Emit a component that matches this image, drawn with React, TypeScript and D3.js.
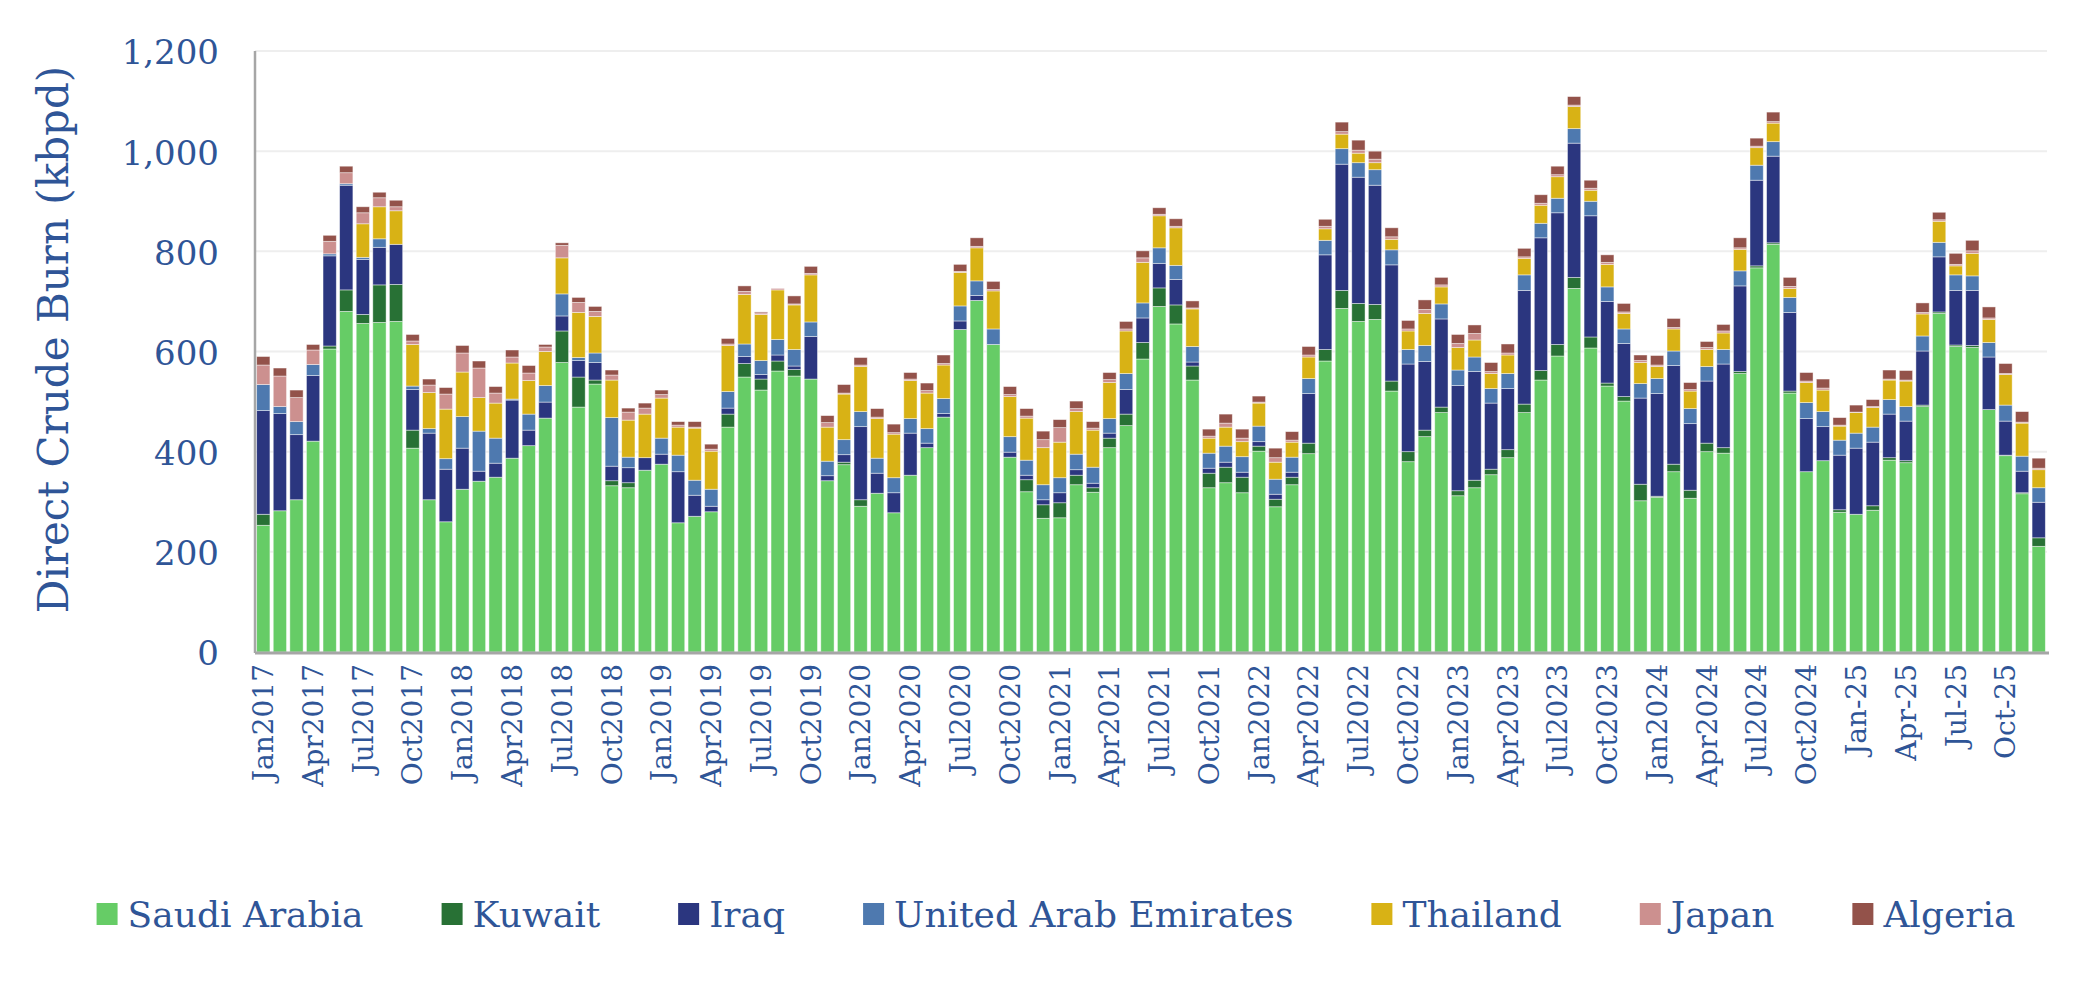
import React, { useRef, useEffect } from "react";
import * as d3 from "d3";

// monthly categories, Jan 2017 .. Dec 2025
const months = d3.timeMonth.range(new Date(2017, 0, 1), new Date(2026, 0, 1));
const monthKeys = months.map((d) => d3.timeFormat("%Y-%m")(d));

// one label every third month
const xTickLabels = [
  "Jan2017", "Apr2017", "Jul2017", "Oct2017",
  "Jan2018", "Apr2018", "Jul2018", "Oct2018",
  "Jan2019", "Apr2019", "Jul2019", "Oct2019",
  "Jan2020", "Apr2020", "Jul2020", "Oct2020",
  "Jan2021", "Apr2021", "Jul2021", "Oct2021",
  "Jan2022", "Apr2022", "Jul2022", "Oct2022",
  "Jan2023", "Apr2023", "Jul2023", "Oct2023",
  "Jan2024", "Apr2024", "Jul2024", "Oct2024",
  "Jan-25", "Apr-25", "Jul-25", "Oct-25",
];

const yTicks = [0, 200, 400, 600, 800, 1000, 1200];

const seriesNames = ["Saudi Arabia", "Kuwait", "Iraq", "United Arab Emirates", "Thailand", "Japan", "Algeria"];
const seriesColors = ["#66cc66", "#287135", "#2b367f", "#4e79af", "#d8b215", "#cc908f", "#93524a"];

// kbpd, one value per month
const saudiArabia = [
  253, 282, 304, 421, 605, 680, 656, 658, 660, 407, 304, 260,
  325, 341, 349, 387, 412, 467, 578, 489, 535, 332, 328, 363,
  375, 258, 271, 280, 449, 549, 523, 561, 551, 545, 342, 374,
  291, 317, 278, 353, 408, 469, 644, 702, 614, 389, 320, 267,
  268, 334, 319, 408, 452, 585, 690, 655, 543, 328, 338, 318,
  401, 290, 334, 396, 581, 686, 660, 664, 521, 380, 430, 478,
  312, 328, 354, 388, 478, 543, 591, 726, 607, 531, 501, 302,
  309, 360, 307, 400, 397, 556, 767, 814, 517, 360, 382, 279,
  275, 283, 383, 378, 490, 676, 610, 608, 484, 392, 316, 211,
];
const kuwait = [
  22, 0, 0, 0, 6, 43, 18, 75, 74, 36, 0, 0,
  0, 0, 0, 0, 0, 0, 63, 60, 8, 10, 10, 0,
  0, 0, 0, 0, 26, 27, 22, 20, 13, 0, 0, 5,
  13, 0, 0, 0, 0, 0, 0, 0, 0, 0, 24, 27,
  30, 19, 9, 19, 23, 33, 37, 38, 28, 29, 31, 31,
  10, 15, 15, 21, 23, 36, 36, 30, 20, 20, 13, 11,
  10, 15, 11, 16, 17, 19, 23, 22, 22, 6, 9, 33,
  2, 15, 16, 17, 11, 4, 4, 3, 4, 0, 0, 5,
  0, 9, 5, 4, 3, 3, 3, 4, 0, 1, 2, 17,
];
const iraq = [
  207, 194, 130, 131, 180, 209, 110, 75, 80, 81, 133, 105,
  82, 20, 28, 116, 31, 32, 30, 33, 35, 29, 30, 25,
  20, 102, 42, 11, 12, 14, 9, 12, 7, 85, 10, 15,
  146, 40, 40, 84, 9, 7, 17, 10, 0, 10, 9, 10,
  20, 11, 9, 10, 49, 49, 49, 51, 8, 10, 10, 10,
  9, 10, 10, 99, 189, 252, 252, 238, 232, 175, 137, 176,
  210, 217, 132, 122, 227, 265, 263, 268, 242, 163, 106, 172,
  205, 197, 133, 124, 167, 171, 171, 173, 157, 106, 68, 109,
  132, 127, 87, 79, 108, 110, 109, 110, 105, 68, 43, 71,
];
const uae = [
  52, 14, 26, 22, 4, 3, 4, 17, 0, 7, 9, 21,
  63, 80, 50, 2, 32, 33, 44, 6, 19, 97, 21, 0,
  32, 33, 30, 34, 33, 25, 28, 31, 33, 29, 29, 30,
  30, 30, 30, 29, 29, 30, 30, 29, 31, 31, 30, 30,
  30, 31, 32, 29, 32, 30, 31, 28, 31, 30, 32, 31,
  31, 30, 30, 30, 29, 31, 29, 31, 30, 29, 32, 30,
  31, 29, 29, 30, 31, 29, 29, 29, 29, 29, 29, 29,
  30, 29, 30, 29, 29, 30, 30, 29, 30, 32, 30, 30,
  30, 30, 29, 29, 30, 29, 31, 29, 29, 32, 30, 29,
];
const thailand = [
  0, 0, 0, 0, 0, 0, 67, 64, 67, 83, 72, 99,
  89, 67, 70, 72, 67, 68, 72, 90, 73, 75, 74, 87,
  80, 56, 104, 76, 92, 99, 92, 99, 89, 94, 68, 91,
  90, 79, 87, 76, 71, 67, 67, 66, 76, 80, 84, 74,
  71, 85, 74, 72, 85, 81, 64, 75, 75, 30, 38, 30,
  46, 34, 30, 43, 23, 29, 19, 14, 21, 37, 64, 34,
  45, 34, 30, 37, 33, 36, 43, 44, 22, 45, 31, 42,
  24, 44, 35, 34, 33, 43, 35, 37, 18, 40, 43, 28,
  41, 39, 39, 51, 44, 42, 18, 45, 46, 61, 66, 36,
];
const japan = [
  39, 61, 48, 29, 25, 22, 22, 18, 8, 7, 15, 30,
  38, 59, 20, 12, 15, 9, 25, 20, 10, 10, 16, 12,
  7, 4, 2, 4, 3, 6, 3, 3, 2, 3, 9, 2,
  3, 3, 3, 3, 5, 3, 2, 3, 3, 4, 4, 16,
  29, 6, 4, 6, 4, 9, 3, 3, 2, 4, 8, 7,
  2, 9, 4, 4, 5, 5, 6, 7, 5, 4, 8, 4,
  8, 13, 4, 4, 3, 4, 4, 3, 4, 4, 3, 4,
  3, 3, 3, 4, 4, 3, 3, 3, 4, 3, 4, 2,
  1, 2, 2, 2, 3, 3, 3, 5, 3, 2, 2, 3,
];
const algeria = [
  17, 16, 15, 11, 12, 13, 12, 11, 13, 13, 12, 13,
  15, 14, 13, 14, 15, 5, 5, 10, 10, 10, 8, 10,
  9, 7, 11, 10, 11, 11, 2, 0, 16, 14, 14, 17,
  15, 17, 17, 13, 15, 17, 14, 17, 16, 16, 15, 17,
  16, 15, 13, 14, 15, 14, 13, 15, 14, 14, 18, 18,
  12, 19, 17, 17, 14, 19, 20, 16, 18, 17, 19, 15,
  18, 17, 18, 18, 17, 17, 17, 17, 16, 15, 17, 11,
  19, 18, 14, 12, 13, 20, 16, 19, 18, 17, 18, 15,
  14, 14, 18, 19, 19, 15, 22, 21, 22, 20, 21, 20,
];

const seriesValues = [saudiArabia, kuwait, iraq, uae, thailand, japan, algeria];

const WIDTH = 2079;
const HEIGHT = 990;
const FONT = "'DejaVu Serif', Georgia, serif";
const TEXT = "#2f5597";

export default function App() {
  const svgRef = useRef(null);

  useEffect(() => {
    document.body.style.margin = "0";
    const plot = { left: 255, right: 2047, top: 51, bottom: 652 };

    const svg = d3.select(svgRef.current);
    svg.selectAll("*").remove();
    svg.attr("width", WIDTH).attr("height", HEIGHT);

    // table for the stack
    const rows = monthKeys.map((key, i) => {
      const row: any = { key };
      seriesNames.forEach((name, s) => (row[name] = seriesValues[s][i]));
      return row;
    });
    const stacked = d3.stack().keys(seriesNames)(rows);

    const x = d3
      .scaleBand()
      .domain(monthKeys)
      .range([plot.left, plot.right])
      .paddingInner(0.2)
      .paddingOuter(0.1);
    const y = d3.scaleLinear().domain([0, 1200]).range([plot.bottom, plot.top]);
    const color = d3.scaleOrdinal().domain(seriesNames).range(seriesColors);

    // gridlines
    svg
      .append("g")
      .selectAll("line")
      .data(yTicks.filter((t) => t > 0))
      .join("line")
      .attr("x1", plot.left)
      .attr("x2", plot.right)
      .attr("y1", (d) => y(d))
      .attr("y2", (d) => y(d))
      .attr("stroke", "#eeeeee")
      .attr("stroke-width", 2);

    // bars
    svg
      .append("g")
      .selectAll("g")
      .data(stacked)
      .join("g")
      .attr("fill", (d) => color(d.key) as string)
      .selectAll("rect")
      .data((d) => d.filter((p) => p[1] - p[0] > 0))
      .join("rect")
      .attr("x", (d) => x(d.data.key))
      .attr("y", (d) => y(d[1]))
      .attr("width", x.bandwidth())
      .attr("height", (d) => y(d[0]) - y(d[1]))
      .attr("stroke", "rgba(255,255,255,0.55)")
      .attr("stroke-width", 0.8);

    // axis lines
    svg
      .append("line")
      .attr("x1", plot.left)
      .attr("x2", plot.left)
      .attr("y1", y(1200))
      .attr("y2", plot.bottom + 1)
      .attr("stroke", "#a6a6a6")
      .attr("stroke-width", 2.5);
    svg
      .append("line")
      .attr("x1", plot.left)
      .attr("x2", plot.right + 2)
      .attr("y1", plot.bottom + 1)
      .attr("y2", plot.bottom + 1)
      .attr("stroke", "#a6a6a6")
      .attr("stroke-width", 3);

    // y tick labels
    const yAxis = svg
      .append("g")
      .attr("transform", `translate(${plot.left},0)`)
      .call(d3.axisLeft(y).tickValues(yTicks).tickSize(0).tickPadding(36).tickFormat(d3.format(",")));
    yAxis.select(".domain").remove();
    yAxis
      .selectAll("text")
      .attr("fill", TEXT)
      .attr("dy", "0.38em")
      .style("font-family", FONT)
      .style("font-size", "34px");

    // x tick labels, rotated
    const labelled = monthKeys.filter((_, i) => i % 3 === 0);
    svg
      .append("g")
      .selectAll("text")
      .data(labelled)
      .join("text")
      .attr("transform", (d) => `translate(${x(d) + x.bandwidth() / 2},${plot.bottom + 12}) rotate(-90)`)
      .attr("text-anchor", "end")
      .attr("dy", "0.35em")
      .attr("fill", TEXT)
      .style("font-family", FONT)
      .style("font-size", "28px")
      .text((d, i) => xTickLabels[i]);

    // y title
    svg
      .append("text")
      .attr("transform", `translate(53,${(plot.top + plot.bottom) / 2 - 12}) rotate(-90)`)
      .attr("text-anchor", "middle")
      .attr("dy", "0.35em")
      .attr("fill", TEXT)
      .style("font-family", FONT)
      .style("font-size", "42px")
      .text("Direct Crude Burn (kbpd)");

    // legend
    const legend = svg.append("g");
    const items = legend
      .selectAll("g")
      .data(seriesNames)
      .join("g");
    items
      .append("rect")
      .attr("width", 21)
      .attr("height", 22)
      .attr("y", -11)
      .attr("fill", (d) => color(d) as string);
    items
      .append("text")
      .attr("x", 31)
      .attr("dy", "0.35em")
      .attr("fill", TEXT)
      .style("font-family", FONT)
      .style("font-size", "36px")
      .text((d) => d);

    const gap = 78;
    const widths = items.nodes().map((n: any) => 31 + n.querySelector("text").getComputedTextLength());
    const total = d3.sum(widths) + gap * (widths.length - 1);
    let cx = 1056 - total / 2;
    items.attr("transform", (d, i) => {
      const t = `translate(${cx},914)`;
      cx += widths[i] + gap;
      return t;
    });
  }, []);

  return <svg ref={svgRef} style={{ position: "absolute", left: 0, top: 0, display: "block" }}></svg>;
}
